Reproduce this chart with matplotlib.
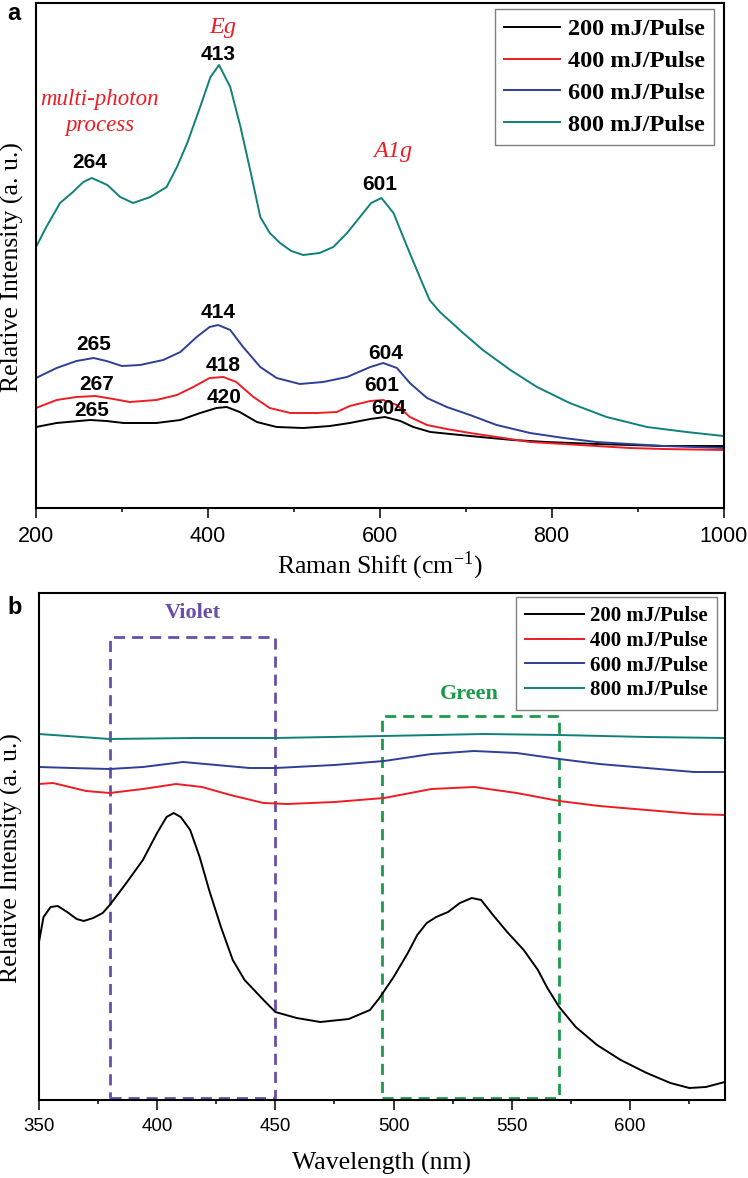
import matplotlib
matplotlib.use("Agg")
import matplotlib.pyplot as plt
import matplotlib.patches as patches

# ---- data ----
# panel a: Raman spectra (arbitrary intensity units)
raman_teal_x = [200, 212, 228, 243, 255, 265, 283, 298, 313, 333, 352, 364, 376, 391, 403, 413, 426, 438, 450, 461,
                472, 484, 497, 511, 530, 546, 562, 576, 590, 602, 616, 632, 648, 658, 670, 697, 720, 752, 783, 821,
                864, 911, 957, 1000]
raman_teal_y = [261, 281, 305, 316, 326, 330, 323, 311, 305, 311, 321, 341, 365, 401, 431, 443, 421, 381, 335, 291,
                275, 265, 257, 253, 255, 261, 275, 290, 305, 310, 295, 261, 228, 208, 196, 175, 158, 138, 121, 105,
                91, 81, 76, 72]

raman_blue_x = [200, 224, 247, 267, 282, 300, 321, 348, 368, 387, 402, 412, 426, 441, 461, 480, 507, 534, 562,
                589, 604, 620, 635, 655, 678, 705, 736, 775, 814, 852, 891, 930, 1000]
raman_blue_y = [130, 140, 147, 150, 147, 142, 143, 148, 156, 171, 181, 183, 178, 161, 141, 130, 124, 126, 131,
                141, 145, 140, 125, 110, 101, 93, 83, 75, 70, 66, 64, 62, 60]

raman_red_x = [200, 224, 247, 269, 290, 309, 340, 364, 383, 402, 418, 433, 453, 472, 496, 527, 550, 565, 589, 604,
               620, 635, 655, 678, 705, 736, 775, 814, 852, 891, 930, 1000]
raman_red_y = [100, 108, 111, 112, 109, 106, 108, 113, 121, 130, 131, 126, 111, 100, 95, 95, 96, 102, 107, 108,
               103, 91, 83, 79, 75, 71, 66, 64, 62, 60, 59, 58]

raman_black_x = [200, 224, 263, 282, 302, 340, 368, 391, 410, 422, 437, 457, 480, 511, 542, 565, 589, 606, 624,
                 639, 659, 682, 717, 755, 794, 852, 930, 1000]
raman_black_y = [81, 85, 88, 87, 85, 85, 88, 95, 100, 101, 96, 86, 81, 80, 82, 85, 89, 91, 87, 81, 76, 74, 71,
                 68, 66, 64, 62, 62]

# panel b: photoluminescence spectra
pl_teal_x = [350, 380, 415, 450, 496, 538, 570, 607, 640]
pl_teal_y = [366, 361, 362, 362, 364, 366, 365, 363, 362]

pl_blue_x = [350, 364, 380, 394, 411, 425, 439, 450, 475, 496, 516, 534, 552, 570, 587, 607, 627, 640]
pl_blue_y = [333, 332, 331, 333, 338, 335, 332, 332, 335, 339, 346, 349, 347, 341, 336, 332, 328, 328]

pl_red_x = [350, 356, 370, 380, 394, 408, 419, 431, 445, 455, 475, 496, 516, 534, 552, 570, 587, 607, 627, 640]
pl_red_y = [316, 317, 309, 307, 311, 316, 313, 305, 297, 296, 298, 302, 311, 313, 307, 299, 294, 290, 286, 285]

pl_black_x = [350, 352, 355, 358, 362, 366, 369, 373, 377, 380, 387, 394, 400, 404, 407, 410, 414, 418, 422, 427,
              432, 437, 445, 450, 459, 469, 481, 490, 494, 500, 506, 510, 514, 518, 523, 528, 533, 537, 542, 548,
              555, 561, 565, 570, 577, 586, 596, 607, 617, 625, 632, 640]
pl_black_y = [157, 183, 193, 194, 188, 181, 179, 182, 187, 195, 217, 240, 267, 283, 287, 283, 270, 243, 210, 173,
              140, 120, 100, 88, 82, 78, 81, 90, 102, 123, 147, 165, 177, 183, 188, 197, 202, 200, 185, 168,
              150, 130, 112, 93, 73, 55, 40, 27, 17, 12, 13, 18]

labels = ["200 mJ/Pulse", "400 mJ/Pulse", "600 mJ/Pulse", "800 mJ/Pulse"]
colors = ["black", "#ee1c24", "#2e3f95", "#10807a"]

# peak labels (x, y, text)
peak_labels = [(263, 346, "264"), (412, 453, "413"), (600, 323, "601"),
               (267, 164, "265"), (412, 195, "414"), (607, 155, "604"),
               (271, 124, "267"), (418, 143, "418"), (602, 123, "601"),
               (265, 98, "265"), (419, 111, "420"), (610, 100, "604")]

violet_box = (380, 450, 463)
green_box = (495, 570, 384)

serif = "Liberation Serif"
sans = "Liberation Sans"
plt.rcParams["mathtext.fontset"] = "stix"
red_txt = "#ee1c24"
violet = "#6a4fa8"
green = "#1b9a4c"

fig = plt.figure(figsize=(7.48, 11.78), dpi=100)

# ---------------- panel a ----------------
ax1 = fig.add_axes([36 / 748, 1 - 508 / 1178, 687.5 / 748, 505 / 1178])
ax1.plot(raman_black_x, raman_black_y, color=colors[0], lw=1.4, label=labels[0])
ax1.plot(raman_red_x, raman_red_y, color=colors[1], lw=1.4, label=labels[1])
ax1.plot(raman_blue_x, raman_blue_y, color=colors[2], lw=1.4, label=labels[2])
ax1.plot(raman_teal_x, raman_teal_y, color=colors[3], lw=1.4, label=labels[3])
ax1.set_xlim(200, 1000)
ax1.set_ylim(0, 505)
ax1.set_xticks([200, 400, 600, 800, 1000])
ax1.set_xticks([300, 500, 700, 900], minor=True)
ax1.set_yticks([])
ax1.tick_params(axis="x", which="major", direction="out", length=7, width=1.1, pad=6)
ax1.tick_params(axis="x", which="minor", direction="out", length=3, width=1.1)
for t in ax1.get_xticklabels():
    t.set_fontfamily(sans)
    t.set_fontsize(15.5)
ax1.set_xlabel(r"Raman Shift (cm$^{\mathregular{-1}}$)", fontsize=18.5, family=serif, va="top")
ax1.xaxis.set_label_coords(0.5, -0.082)
ax1.set_ylabel("Relative Intensity (a. u.)", fontsize=18.5, family=serif)
ax1.yaxis.set_label_coords(-0.018, 0.477)

for x, y, s in peak_labels:
    ax1.text(x, y, s, ha="center", va="center", fontsize=15, fontweight="bold", family=sans)
ax1.text(417, 481, "Eg", ha="center", va="center", fontsize=17.5, style="italic", family=serif, color=red_txt)
ax1.text(615, 356, "A1g", ha="center", va="center", fontsize=17.5, style="italic", family=serif, color=red_txt)
ax1.text(274, 409, "multi-photon", ha="center", va="center", fontsize=16.5, style="italic", family=serif, color=red_txt)
ax1.text(274, 383, "process", ha="center", va="center", fontsize=16.5, style="italic", family=serif, color=red_txt)

leg1 = ax1.legend(loc="upper right", bbox_to_anchor=(0.986, 0.988), borderaxespad=0, fancybox=False,
                  framealpha=1, edgecolor="#808080", prop={"family": serif, "weight": "bold", "size": 17.5},
                  handlelength=2.3, handletextpad=0.3, labelspacing=0.4, borderpad=0.38)
leg1.get_frame().set_linewidth(1.0)
fig.text(7 / 748, 1 - 13 / 1178, "a", fontsize=17, fontweight="bold", family=sans, va="center")

# ---------------- panel b ----------------
ax2 = fig.add_axes([38.8 / 748, 1 - 1100 / 1178, 686 / 748, 507 / 1178])
ax2.plot(pl_black_x, pl_black_y, color=colors[0], lw=1.4, label=labels[0])
ax2.plot(pl_red_x, pl_red_y, color=colors[1], lw=1.4, label=labels[1])
ax2.plot(pl_blue_x, pl_blue_y, color=colors[2], lw=1.4, label=labels[2])
ax2.plot(pl_teal_x, pl_teal_y, color=colors[3], lw=1.4, label=labels[3])
ax2.set_xlim(350, 640)
ax2.set_ylim(0, 507)
ax2.set_xticks([350, 400, 450, 500, 550, 600])
ax2.set_xticks([375, 425, 475, 525, 575, 625], minor=True)
ax2.set_yticks([])
ax2.tick_params(axis="x", which="major", direction="out", length=7, width=1.1, pad=6)
ax2.tick_params(axis="x", which="minor", direction="out", length=3, width=1.1)
for t in ax2.get_xticklabels():
    t.set_fontfamily(sans)
    t.set_fontsize(13.5)
ax2.set_xlabel("Wavelength (nm)", fontsize=18.5, family=serif, va="top")
ax2.xaxis.set_label_coords(0.5, -0.102)
ax2.set_ylabel("Relative Intensity (a. u.)", fontsize=18.5, family=serif)
ax2.yaxis.set_label_coords(-0.023, 0.477)

for (x0, x1, top), col in [(violet_box, violet), (green_box, green)]:
    rect = patches.Rectangle((x0, 2), x1 - x0, top - 2, fill=False, edgecolor=col, lw=2,
                             linestyle=(0, (4, 2.5)))
    ax2.add_patch(rect)
ax2.text(415, 487, "Violet", ha="center", va="center", fontsize=16, fontweight="bold", family=serif, color=violet)
ax2.text(532, 406, "Green", ha="center", va="center", fontsize=16, fontweight="bold", family=serif, color=green)

leg2 = ax2.legend(loc="upper right", bbox_to_anchor=(0.9886, 0.992), borderaxespad=0, fancybox=False,
                  framealpha=1, edgecolor="#808080", prop={"family": serif, "weight": "bold", "size": 15},
                  handlelength=2.8, handletextpad=0.3, labelspacing=0.22, borderpad=0.45)
leg2.get_frame().set_linewidth(1.0)
fig.text(7 / 748, 1 - 607 / 1178, "b", fontsize=17, fontweight="bold", family=sans, va="center")

for ax in (ax1, ax2):
    for sp in ax.spines.values():
        sp.set_linewidth(1.5)

fig.savefig("out.png", dpi=100)
